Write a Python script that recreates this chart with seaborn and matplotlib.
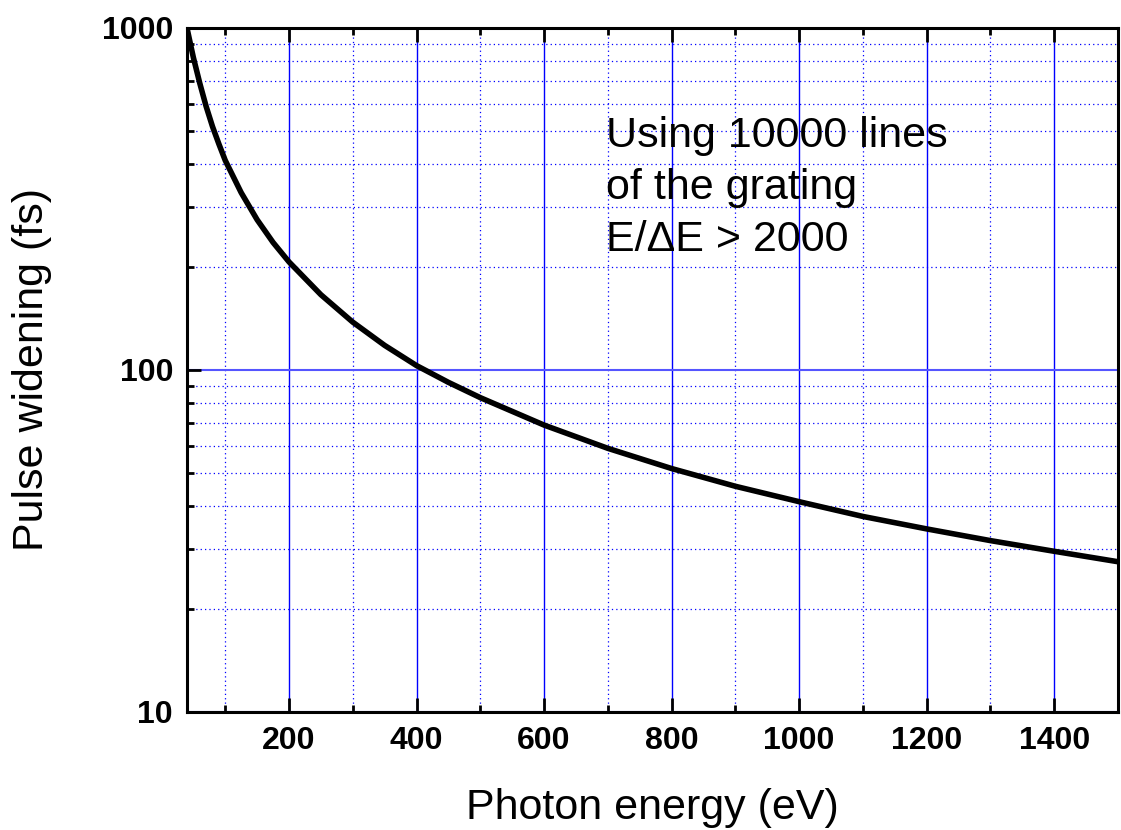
import pandas as pd
import seaborn as sns
import matplotlib.pyplot as plt
from matplotlib.ticker import MultipleLocator, LogLocator, FixedLocator, FixedFormatter, NullFormatter

# values
energy_ev = [40, 45, 50, 60, 70, 80, 90, 100, 125, 150, 175, 200, 250, 300, 350, 400,
             450, 500, 600, 700, 800, 900, 1000, 1100, 1200, 1300, 1400, 1500]
widening_fs = [1000, 905, 820, 690, 590, 515, 458, 410, 330, 275, 236, 207, 166, 138, 118, 103,
               92, 83, 69, 59, 51.5, 45.7, 41.2, 37.3, 34.3, 31.7, 29.5, 27.5]

x_ticks = [200, 400, 600, 800, 1000, 1200, 1400]
y_ticks = [10, 100, 1000]
y_ticklabels = ['10', '100', '1000']

note = 'Using 10000 lines\nof the grating\nE/\u0394E > 2000'

df = pd.DataFrame({'Photon energy (eV)': energy_ev, 'Pulse widening (fs)': widening_fs})

sns.set_style('white')
plt.rcParams['font.family'] = ['Liberation Sans', 'DejaVu Sans']
plt.rcParams['text.color'] = 'black'
plt.rcParams['axes.labelcolor'] = 'black'
plt.rcParams['xtick.color'] = 'black'
plt.rcParams['ytick.color'] = 'black'

fig = plt.figure(figsize=(11.21, 8.30), dpi=100)
ax = fig.add_axes([0.1668, 0.1422, 0.8305, 0.8241])

sns.lineplot(data=df, x='Photon energy (eV)', y='Pulse widening (fs)', ax=ax,
             color='black', linewidth=4, zorder=5)

ax.set_yscale('log')
ax.set_xlim(40, 1500)
ax.set_ylim(10, 1000)

# ticks
ax.xaxis.set_major_locator(FixedLocator(x_ticks))
ax.xaxis.set_minor_locator(MultipleLocator(100))
ax.yaxis.set_major_locator(FixedLocator(y_ticks))
ax.yaxis.set_major_formatter(FixedFormatter(y_ticklabels))
ax.yaxis.set_minor_locator(LogLocator(base=10, subs=range(2, 10)))
ax.yaxis.set_minor_formatter(NullFormatter())

ax.tick_params(which='major', direction='in', length=10, width=2, labelsize=23, pad=10,
               top=True, right=False, left=True, bottom=True)
ax.tick_params(which='minor', direction='in', length=5, width=2,
               top=True, right=False, left=True, bottom=True)
for lab in ax.get_xticklabels() + ax.get_yticklabels():
    lab.set_fontweight('bold')

# grid
ax.grid(True, which='minor', color='#0000ff', linestyle=(0, (1, 2.5)), linewidth=0.9)
ax.xaxis.grid(True, which='major', color='#0000ff', linestyle='-', linewidth=1.0)
ax.yaxis.grid(True, which='major', color='#5555ff', linestyle='-', linewidth=1.5)

for s in ax.spines.values():
    s.set_linewidth(2.2)
    s.set_color('black')

ax.set_xlabel('Photon energy (eV)', fontsize=31, labelpad=23)
ax.set_ylabel('Pulse widening (fs)', fontsize=31, labelpad=36)

ax.text(0.450, 0.872, note, transform=ax.transAxes, fontsize=31, va='top', ha='left',
        linespacing=1.4, zorder=6)

fig.savefig('out.png', dpi=100)
